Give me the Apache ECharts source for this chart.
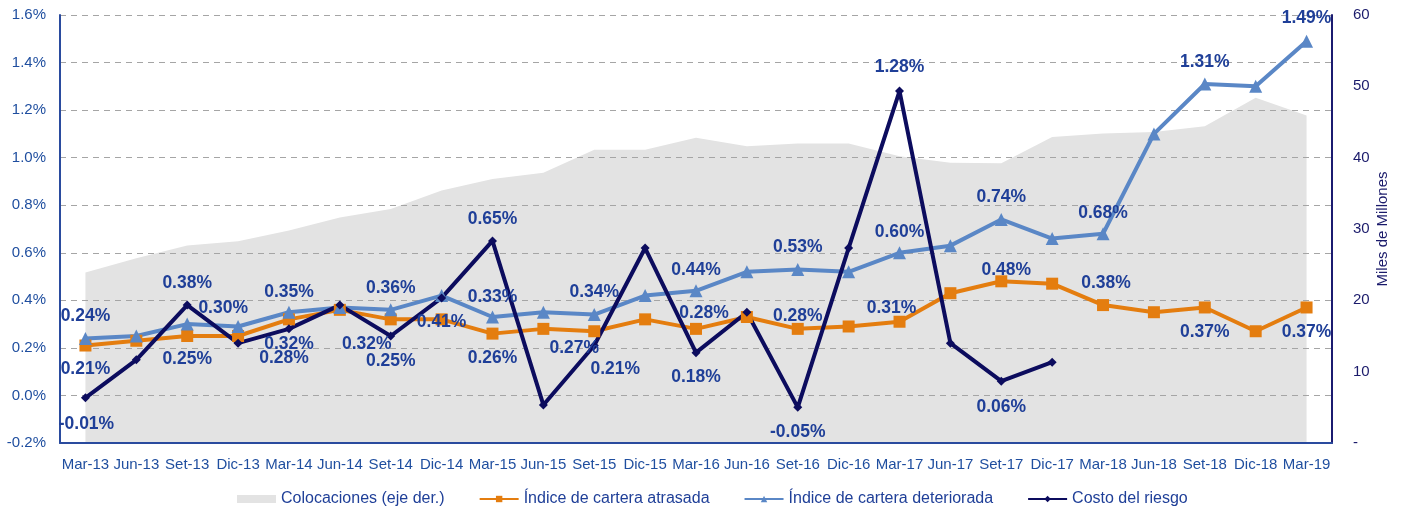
<!DOCTYPE html>
<html>
<head>
<meta charset="utf-8">
<title>Indicadores de cartera</title>
<script src="https://cdn.jsdelivr.net/npm/echarts@6/dist/echarts.min.js"></script>
<style>
  html, body { margin: 0; padding: 0; background: #fff; }
  #chart { width: 1403px; height: 511px; }
</style>
</head>
<body>
<div id="chart"></div>
<script>
// trimestres
var categories = ['Mar-13', 'Jun-13', 'Set-13', 'Dic-13', 'Mar-14', 'Jun-14', 'Set-14', 'Dic-14',
	'Mar-15', 'Jun-15', 'Set-15', 'Dic-15', 'Mar-16', 'Jun-16', 'Set-16', 'Dic-16',
	'Mar-17', 'Jun-17', 'Set-17', 'Dic-17', 'Mar-18', 'Jun-18', 'Set-18', 'Dic-18', 'Mar-19'];

// Colocaciones (eje der.), miles de millones
var colocaciones = [23.9, 25.9, 27.7, 28.3, 29.8, 31.6, 32.8, 35.4, 37.0, 37.9, 41.1, 41.1, 42.8,
	41.6, 42.0, 42.0, 40.2, 39.3, 39.2, 42.9, 43.4, 43.6, 44.4, 48.4, 45.9];

// indices en %
var atrasada = [0.21, 0.23, 0.25, 0.25, 0.32, 0.36, 0.32, 0.32, 0.26, 0.28, 0.27, 0.32, 0.28,
	0.33, 0.28, 0.29, 0.31, 0.43, 0.48, 0.47, 0.38, 0.35, 0.37, 0.27, 0.37];
var deteriorada = [0.24, 0.25, 0.30, 0.29, 0.35, 0.37, 0.36, 0.42, 0.33, 0.35, 0.34, 0.42, 0.44,
	0.52, 0.53, 0.52, 0.60, 0.63, 0.74, 0.66, 0.68, 1.10, 1.31, 1.30, 1.49];
var costoRiesgo = [-0.01, 0.15, 0.38, 0.22, 0.28, 0.38, 0.25, 0.41, 0.65, -0.04, 0.21, 0.62, 0.18,
	0.35, -0.05, 0.62, 1.28, 0.22, 0.06, 0.14, null, null, null, null, null];

// etiquetas visibles: indice -> desplazamiento [dx, dy] respecto al punto
var lblAtrasada = {0: [0, 24], 2: [0, 23], 4: [0, 25], 6: [-24, 25], 8: [0, 25], 10: [-20, 17],
	12: [8, -16], 14: [0, -13], 16: [-8, -14], 18: [5, -11], 20: [3, -22], 22: [0, 25], 24: [0, 25]};
var lblDeteriorada = {0: [0, -22], 2: [36, -16], 4: [0, -20], 6: [0, -22], 8: [0, -20], 10: [0, -22],
	12: [0, -21], 14: [0, -22], 16: [0, -21], 18: [0, -22], 20: [0, -21], 22: [0, -22], 24: [0, -23]};
var lblCosto = {0: [1, 26], 2: [0, -22], 4: [-5, 29], 6: [0, 25], 7: [0, 24], 8: [0, -22],
	10: [21, 24], 12: [0, 25], 14: [0, 25], 16: [0, -24], 18: [0, 26]};

var LABEL_COLOR = '#1f3f98';

function withLabels(values, spec) {
	var out = [];
	for (var i = 0; i < values.length; i++) {
		var item = {value: values[i]};
		if (spec[i]) {
			item.label = {show: true, position: 'inside', offset: spec[i]};
		}
		out.push(item);
	}
	return out;
}

var lineLabel = {
	show: false,
	color: LABEL_COLOR,
	fontWeight: 'bold',
	fontSize: 17.5,
	formatter: function(p) { return p.value.toFixed(2) + '%'; }
};

var chart = echarts.init(document.getElementById('chart'));
chart.setOption({
	animation: false,
	textStyle: {fontFamily: 'Liberation Sans, Arial, sans-serif'},
	grid: {left: 60, right: 71, top: 15, bottom: 68},
	legend: {
		left: 232, top: 486,
		itemWidth: 39, itemHeight: 8, itemGap: 34,
		textStyle: {color: '#1f3f98', fontSize: 16},
		data: [
			{name: 'Colocaciones (eje der.)', icon: 'rect'},
			'Índice de cartera atrasada',
			'Índice de cartera deteriorada',
			'Costo del riesgo'
		]
	},
	xAxis: {
		type: 'category',
		data: categories,
		axisLine: {onZero: false, lineStyle: {color: '#2a4b9e', width: 2}},
		axisTick: {show: false},
		axisLabel: {interval: 0, color: '#1f4e9f', fontSize: 15, margin: 14}
	},
	yAxis: [{
		type: 'value',
		min: -0.2, max: 1.6, interval: 0.2,
		axisLine: {show: true, lineStyle: {color: '#2a4b9e', width: 2}},
		axisTick: {show: false},
		axisLabel: {color: '#1f4e9f', fontSize: 15, margin: 14,
			formatter: function(v) { return v.toFixed(1) + '%'; }},
		splitLine: {lineStyle: {color: '#a5a5a5', type: [6, 5], width: 1}}
	}, {
		type: 'value',
		min: 0, max: 60, interval: 10,
		position: 'right',
		name: 'Miles de Millones',
		nameLocation: 'middle',
		nameGap: 43,
		nameMoveOverlap: false,
		nameTextStyle: {color: '#1b1b6b', fontSize: 15},
		axisLine: {show: true, lineStyle: {color: '#1b1b70', width: 2}},
		axisTick: {show: false},
		axisLabel: {color: '#1b1b6b', fontSize: 15, margin: 21,
			formatter: function(v) { return v === 0 ? '-' : v; }},
		splitLine: {show: false}
	}],
	series: [{
		name: 'Colocaciones (eje der.)',
		type: 'line',
		yAxisIndex: 1,
		data: colocaciones,
		z: -1,
		symbol: 'none',
		lineStyle: {width: 0},
		itemStyle: {color: '#e3e3e3'},
		areaStyle: {color: '#e3e3e3', opacity: 1}
	}, {
		name: 'Índice de cartera atrasada',
		type: 'line',
		data: withLabels(atrasada, lblAtrasada),
		symbol: 'rect', symbolSize: 12,
		lineStyle: {width: 4, color: '#e47d0f'},
		itemStyle: {color: '#e47d0f'},
		label: lineLabel
	}, {
		name: 'Índice de cartera deteriorada',
		type: 'line',
		data: withLabels(deteriorada, lblDeteriorada),
		symbol: 'triangle', symbolSize: 13,
		lineStyle: {width: 4, color: '#5a87c6'},
		itemStyle: {color: '#5a87c6'},
		label: lineLabel
	}, {
		name: 'Costo del riesgo',
		type: 'line',
		data: withLabels(costoRiesgo, lblCosto),
		symbol: 'diamond', symbolSize: 9,
		lineStyle: {width: 4, color: '#0c0c5e'},
		itemStyle: {color: '#0c0c5e'},
		label: lineLabel
	}]
});
</script>
</body>
</html>
